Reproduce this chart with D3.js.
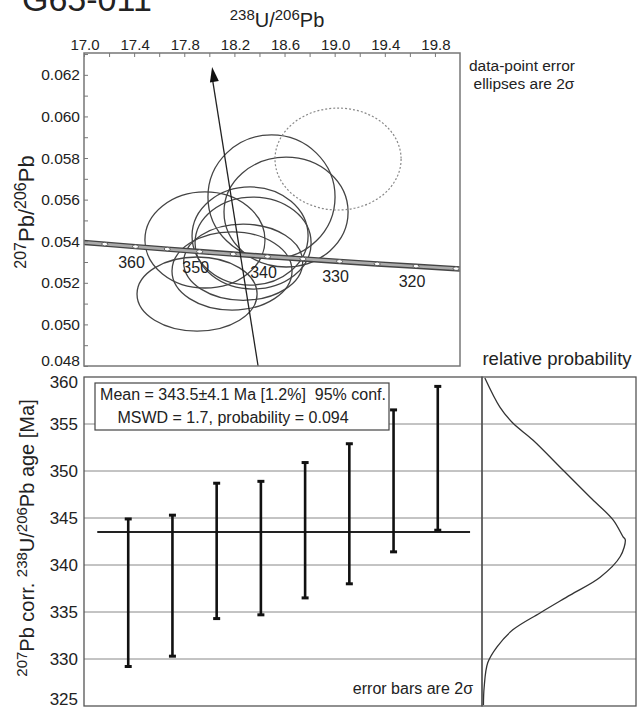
<!DOCTYPE html>
<html>
<head>
<meta charset="utf-8" />
<title>G65-011</title>
<script src="https://d3js.org/d3.v7.min.js"></script>
<style>
  body { margin: 0; background: #fff; }
  svg text { font-family: "Liberation Sans", Arial, sans-serif; fill: #222; }
</style>
</head>
<body>
<svg id="chart" width="637" height="707"></svg>
<script>
// ---- data ----
// concordia marks (age in Ma, 238U/206Pb, 207Pb/206Pb)
var concAges = [310, 315, 320, 325, 330, 335, 340, 345, 350, 355, 360, 365, 370];
var concX = [20.299, 19.969, 19.649, 19.339, 19.039, 18.747, 18.464, 18.190, 17.923, 17.664, 17.411, 17.166, 16.928];
var concY = [0.05256, 0.05268, 0.05280, 0.05291, 0.05303, 0.05315, 0.05326, 0.05338, 0.05350, 0.05362, 0.05374, 0.05386, 0.05398];
var concLabels = [360, 350, 340, 330, 320];

// error ellipses: centre, half widths, rotation (deg)
var ellX  = [18.496, 18.612, 17.965, 18.325, 18.349, 17.902, 18.181, 18.270, 19.027];
var ellY  = [0.05613, 0.05540, 0.05406, 0.05425, 0.05391, 0.05146, 0.05257, 0.05299, 0.05795];
var ellSx = [0.507, 0.495, 0.479, 0.463, 0.463, 0.479, 0.479, 0.475, 0.503];
var ellSy = [0.00298, 0.00264, 0.00231, 0.00236, 0.00221, 0.00178, 0.00188, 0.00183, 0.00245];
var ellRot = [0, 0, 0, 0, 0, 0, 0, 0, 0];
var ellExcluded = [false, false, false, false, false, false, false, false, true];

// common-Pb line (from bottom of frame to arrow head)
var leadX = [18.389, 18.022];
var leadY = [0.0480, 0.06238];

// weighted mean panel
var barAge = [337.05, 337.8, 341.5, 341.8, 343.7, 345.45, 348.95, 351.35];
var barErr = [7.85, 7.5, 7.2, 7.1, 7.2, 7.45, 7.55, 7.65];
var meanAge = 343.5;

// relative probability curve
var probAge = [325.1, 327.0, 329.6, 331.3, 333.1, 334.9, 336.8, 338.7, 340.9, 342.7, 343.0, 344.8, 347.2, 350.1, 353.3, 355.1, 356.8, 359.9];
var probVal = [0.01, 0.015, 0.04, 0.105, 0.215, 0.405, 0.615, 0.825, 0.965, 1.0, 0.985, 0.915, 0.755, 0.565, 0.355, 0.215, 0.125, 0.02];

var xTicks = [17.0, 17.4, 17.8, 18.2, 18.6, 19.0, 19.4, 19.8];
var yTicks = [0.048, 0.050, 0.052, 0.054, 0.056, 0.058, 0.060, 0.062];
var ageTicks = [325, 330, 335, 340, 345, 350, 355, 360];

var svg = d3.select("#chart");

// title, clipped at the top of the picture
svg.append("text").attr("x", 22).attr("y", 11)
  .style("font-size", "34px").text("G65-011");

// ================= concordia plot =================
var x = d3.scaleLinear().domain([17.0, 20.0]).range([84, 460]);
var y = d3.scaleLinear().domain([0.048, 0.06305]).range([366, 53]);

svg.append("defs").append("clipPath").attr("id", "clipTop")
  .append("rect").attr("x", 84).attr("y", 53).attr("width", 376).attr("height", 313);

var plot = svg.append("g").attr("clip-path", "url(#clipTop)");

// ellipses
var ells = d3.range(ellX.length).map(function (i) {
  return { x: ellX[i], y: ellY[i], sx: ellSx[i], sy: ellSy[i], r: ellRot[i], ex: ellExcluded[i] };
});
plot.selectAll("ellipse.err").data(ells).enter().append("ellipse")
  .attr("class", "err")
  .attr("cx", function (d) { return x(d.x); })
  .attr("cy", function (d) { return y(d.y); })
  .attr("rx", function (d) { return x(d.x + d.sx) - x(d.x); })
  .attr("ry", function (d) { return y(d.y) - y(d.y + d.sy); })
  .attr("transform", function (d) { return "rotate(" + d.r + "," + x(d.x) + "," + y(d.y) + ")"; })
  .attr("fill", "none")
  .attr("stroke", function (d) { return d.ex ? "#888" : "#444"; })
  .attr("stroke-width", function (d) { return d.ex ? 1.2 : 1.3; })
  .attr("stroke-dasharray", function (d) { return d.ex ? "2,2" : null; });

// concordia band
var conc = concAges.map(function (a, i) { return { age: a, x: concX[i], y: concY[i] }; });
var cline = d3.line().x(function (d) { return x(d.x); }).y(function (d) { return y(d.y); });
plot.append("path").datum(conc).attr("d", cline)
  .attr("fill", "none").attr("stroke", "#444").attr("stroke-width", 5.5);
plot.append("path").datum(conc).attr("d", cline)
  .attr("fill", "none").attr("stroke", "#aaa").attr("stroke-width", 2.6);

var ang = Math.atan2(y(concY[0]) - y(concY[12]), x(concX[0]) - x(concX[12])) * 180 / Math.PI;
plot.selectAll("ellipse.mark").data(conc).enter().append("ellipse")
  .attr("class", "mark")
  .attr("cx", function (d) { return x(d.x); })
  .attr("cy", function (d) { return y(d.y); })
  .attr("rx", 3).attr("ry", 1.8)
  .attr("transform", function (d) { return "rotate(" + ang + "," + x(d.x) + "," + y(d.y) + ")"; })
  .attr("fill", "#fff").attr("stroke", "#444").attr("stroke-width", 0.8);

plot.selectAll("text.age").data(conc.filter(function (d) { return concLabels.indexOf(d.age) >= 0; }))
  .enter().append("text").attr("class", "age")
  .attr("x", function (d) { return x(d.x) - 4; })
  .attr("y", function (d) { return y(d.y) + 21; })
  .attr("text-anchor", "middle")
  .style("font-size", "16px")
  .text(function (d) { return d.age; });

// common-Pb line with arrow
var lx0 = x(leadX[0]), ly0 = y(leadY[0]), lx1 = x(leadX[1]), ly1 = y(leadY[1]);
plot.append("line").attr("x1", lx0).attr("y1", ly0).attr("x2", lx1).attr("y2", ly1 + 10)
  .attr("stroke", "#222").attr("stroke-width", 1.3);
var la = Math.atan2(ly1 - ly0, lx1 - lx0);
var hl = 15, hw = 4.5;
var bx = lx1 - hl * Math.cos(la), by = ly1 - hl * Math.sin(la);
plot.append("path")
  .attr("d", "M" + lx1 + "," + ly1 +
    "L" + (bx - hw * Math.sin(la)) + "," + (by + hw * Math.cos(la)) +
    "L" + (bx + hw * Math.sin(la)) + "," + (by - hw * Math.cos(la)) + "Z")
  .attr("fill", "#111");

// frame
svg.append("rect").attr("x", 84).attr("y", 53).attr("width", 376).attr("height", 313)
  .attr("fill", "none").attr("stroke", "#777").attr("stroke-width", 1.5);

// top axis (ticks inward)
var topAxis = d3.axisTop(x).tickValues(d3.range(17.0, 19.95, 0.2)).tickSize(-4).tickFormat("");
svg.append("g").attr("transform", "translate(0,53)").call(topAxis)
  .call(function (g) { g.select(".domain").remove(); g.selectAll("line").attr("stroke", "#777"); });
svg.selectAll("text.xt").data(xTicks).enter().append("text").attr("class", "xt")
  .attr("x", function (d) { return x(d) + 1; }).attr("y", 50)
  .attr("text-anchor", "middle").style("font-size", "15px")
  .text(function (d) { return d.toFixed(1); });

var leftAxis = d3.axisLeft(y).tickValues(d3.range(0.048, 0.0631, 0.001)).tickSize(-4).tickFormat("");
svg.append("g").attr("transform", "translate(84,0)").call(leftAxis)
  .call(function (g) { g.select(".domain").remove(); g.selectAll("line").attr("stroke", "#777"); });
svg.selectAll("text.yt").data(yTicks).enter().append("text").attr("class", "yt")
  .attr("x", 80).attr("y", function (d, i) { return y(d) + (i === 0 ? 0 : 5.5); })
  .attr("text-anchor", "end").style("font-size", "15.5px")
  .text(function (d) { return d.toFixed(3); });

// axis titles
var t1 = svg.append("text").attr("x", 277).attr("y", 27).attr("text-anchor", "middle").style("font-size", "20px");
t1.append("tspan").attr("dy", -7).style("font-size", "15px").text("238");
t1.append("tspan").attr("dy", 7).text("U/");
t1.append("tspan").attr("dy", -7).style("font-size", "15px").text("206");
t1.append("tspan").attr("dy", 7).text("Pb");

var t2 = svg.append("text").attr("transform", "translate(34,212) rotate(-90)")
  .attr("text-anchor", "middle").style("font-size", "22px");
t2.append("tspan").attr("dy", -8).style("font-size", "16px").text("207");
t2.append("tspan").attr("dy", 8).text("Pb/");
t2.append("tspan").attr("dy", -8).style("font-size", "16px").text("206");
t2.append("tspan").attr("dy", 8).text("Pb");

svg.append("text").attr("x", 522).attr("y", 71).attr("text-anchor", "middle")
  .style("font-size", "15.5px").text("data-point error");
svg.append("text").attr("x", 524).attr("y", 89).attr("text-anchor", "middle")
  .style("font-size", "15.5px").text("ellipses are 2\u03c3");

// ================= weighted mean plot =================
var bxScale = d3.scaleLinear().domain([0, 9]).range([84, 482]);
var ay = d3.scaleLinear().domain([325, 360]).range([706, 377]);
var px = d3.scaleLinear().domain([0, 1.075]).range([482, 636]);

// grid lines across both panels
svg.selectAll("line.grid").data(ageTicks.slice(1, -1)).enter().append("line").attr("class", "grid")
  .attr("x1", 84).attr("x2", 636)
  .attr("y1", function (d) { return ay(d); }).attr("y2", function (d) { return ay(d); })
  .attr("stroke", "#888").attr("stroke-width", 1);

svg.selectAll("text.at").data(ageTicks).enter().append("text").attr("class", "at")
  .attr("x", 78).attr("y", function (d, i) {
    if (i === 0) return ay(d) - 1;
    if (i === ageTicks.length - 1) return ay(d) + 11;
    return ay(d) + 6;
  })
  .attr("text-anchor", "end").style("font-size", "17px")
  .text(function (d) { return d; });

// mean line
svg.append("line").attr("x1", bxScale(0.3)).attr("x2", bxScale(8.73))
  .attr("y1", ay(meanAge)).attr("y2", ay(meanAge))
  .attr("stroke", "#222").attr("stroke-width", 2);

// error bars
var bars = barAge.map(function (a, i) { return { i: i + 1, lo: a - barErr[i], hi: a + barErr[i] }; });
var bg = svg.selectAll("g.bar").data(bars).enter().append("g").attr("class", "bar");
bg.append("line")
  .attr("x1", function (d) { return bxScale(d.i); }).attr("x2", function (d) { return bxScale(d.i); })
  .attr("y1", function (d) { return ay(d.lo); }).attr("y2", function (d) { return ay(d.hi); })
  .attr("stroke", "#111").attr("stroke-width", 2.6);
bg.append("line")
  .attr("x1", function (d) { return bxScale(d.i) - 3.5; }).attr("x2", function (d) { return bxScale(d.i) + 3.5; })
  .attr("y1", function (d) { return ay(d.hi); }).attr("y2", function (d) { return ay(d.hi); })
  .attr("stroke", "#111").attr("stroke-width", 3);
bg.append("line")
  .attr("x1", function (d) { return bxScale(d.i) - 3.5; }).attr("x2", function (d) { return bxScale(d.i) + 3.5; })
  .attr("y1", function (d) { return ay(d.lo); }).attr("y2", function (d) { return ay(d.lo); })
  .attr("stroke", "#111").attr("stroke-width", 3);

// result box
svg.append("rect").attr("x", 95).attr("y", 383).attr("width", 294).attr("height", 47)
  .attr("fill", "#fff").attr("stroke", "#444").attr("stroke-width", 1.2);
svg.append("text").attr("x", 243).attr("y", 400).attr("text-anchor", "middle")
  .style("font-size", "16px").text("Mean = 343.5\u00b14.1 Ma [1.2%]\u00a0 95% conf.");
svg.append("text").attr("x", 233).attr("y", 423).attr("text-anchor", "middle")
  .style("font-size", "16px").text("MSWD = 1.7, probability = 0.094");

svg.append("text").attr("x", 473).attr("y", 694).attr("text-anchor", "end")
  .style("font-size", "16px").text("error bars are 2\u03c3");

// probability curve
var prob = probAge.map(function (a, i) { return { a: a, v: probVal[i] }; });
svg.append("path").datum(prob)
  .attr("d", d3.line().x(function (d) { return px(d.v); }).y(function (d) { return ay(d.a); }).curve(d3.curveCatmullRom))
  .attr("fill", "none").attr("stroke", "#333").attr("stroke-width", 1.3);

svg.append("text").attr("x", 557).attr("y", 365).attr("text-anchor", "middle")
  .style("font-size", "18.5px").text("relative probability");

// frames
svg.append("rect").attr("x", 84).attr("y", 377).attr("width", 398).attr("height", 329)
  .attr("fill", "none").attr("stroke", "#555").attr("stroke-width", 1.3);
svg.append("rect").attr("x", 482).attr("y", 377).attr("width", 154).attr("height", 329)
  .attr("fill", "none").attr("stroke", "#555").attr("stroke-width", 1.3);

// y title for the age panel
var t3 = svg.append("text").attr("transform", "translate(34,538) rotate(-90)")
  .attr("text-anchor", "middle").style("font-size", "20px");
t3.append("tspan").attr("dy", -7).style("font-size", "15px").text("207");
t3.append("tspan").attr("dy", 7).text("Pb corr. ");
t3.append("tspan").attr("dy", -7).style("font-size", "15px").text("238");
t3.append("tspan").attr("dy", 7).text("U/");
t3.append("tspan").attr("dy", -7).style("font-size", "15px").text("206");
t3.append("tspan").attr("dy", 7).text("Pb age [Ma]");
</script>
</body>
</html>
